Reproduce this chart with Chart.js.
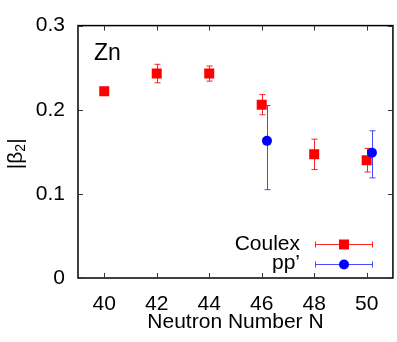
<!DOCTYPE html>
<html>
<head>
<meta charset="utf-8">
<script src="https://cdn.jsdelivr.net/npm/chart.js@4/dist/chart.umd.min.js"></script>
<style>
  html, body { margin: 0; padding: 0; background: #fff; overflow: hidden; }
  #wrap { width: 397px; height: 342px; overflow: hidden; }
</style>
</head>
<body>
<div id="wrap"><canvas id="beta2" width="400" height="342"></canvas></div>
<script>
// Data
var xTicks = [40, 42, 44, 46, 48, 50];
var yTicks = [0, 0.1, 0.2, 0.3];

var coulexN = [40, 42, 44, 46, 48, 50];
var coulexBeta = [0.222, 0.243, 0.243, 0.206, 0.147, 0.140];
var coulexErr = [0.004, 0.011, 0.009, 0.012, 0.018, 0.014];

var ppN = [46.2, 50.2];
var ppBeta = [0.163, 0.149];
var ppErrUp = [0.042, 0.026];
var ppErrDown = [0.058, 0.030];

var RED = '#ff0000';
var BLUE = '#0000ff';
var FONT = "'Liberation Sans', Arial, sans-serif";

// error bars, frame, inner ticks, labels, legend
var decorations = {
	id: 'decorations',
	beforeDatasetsDraw: function (chart) {
		var ctx = chart.ctx;
		var xs = chart.scales.x;
		var ys = chart.scales.y;
		var bar = function (n, lo, hi, color) {
			var x = Math.round(xs.getPixelForValue(n)) + 0.5;
			var y1 = ys.getPixelForValue(hi);
			var y2 = ys.getPixelForValue(lo);
			ctx.strokeStyle = color;
			ctx.lineWidth = 1;
			ctx.beginPath();
			ctx.moveTo(x, y1); ctx.lineTo(x, y2);
			ctx.moveTo(x - 3, y1); ctx.lineTo(x + 3, y1);
			ctx.moveTo(x - 3, y2); ctx.lineTo(x + 3, y2);
			ctx.stroke();
		};
		ctx.save();
		coulexN.forEach(function (n, i) {
			bar(n, coulexBeta[i] - coulexErr[i], coulexBeta[i] + coulexErr[i], '#ff2020');
		});
		ppN.forEach(function (n, i) {
			bar(n, ppBeta[i] - ppErrDown[i], ppBeta[i] + ppErrUp[i], '#4848ff');
		});
		ctx.restore();
	},
	afterDraw: function (chart) {
		var ctx = chart.ctx;
		var a = chart.chartArea;
		var xs = chart.scales.x;
		var ys = chart.scales.y;
		ctx.save();

		// frame
		ctx.strokeStyle = '#000';
		ctx.lineWidth = 1.5;
		ctx.strokeRect(a.left, a.top, a.right - a.left, a.bottom - a.top);

		// inward ticks
		ctx.lineWidth = 1;
		ctx.strokeStyle = '#333';
		ctx.beginPath();
		xTicks.forEach(function (v) {
			var x = Math.round(xs.getPixelForValue(v)) + 0.5;
			ctx.moveTo(x, a.bottom); ctx.lineTo(x, a.bottom - 5);
			ctx.moveTo(x, a.top); ctx.lineTo(x, a.top + 5);
		});
		yTicks.forEach(function (v) {
			var y = Math.round(ys.getPixelForValue(v)) + 0.5;
			ctx.moveTo(a.left, y); ctx.lineTo(a.left + 5, y);
			ctx.moveTo(a.right, y); ctx.lineTo(a.right - 5, y);
		});
		ctx.stroke();

		// element label
		ctx.fillStyle = '#000';
		ctx.textBaseline = 'middle';
		ctx.textAlign = 'left';
		ctx.font = '23px ' + FONT;
		ctx.fillText('Zn', a.left + 16, a.top + 28);

		// y title |beta_2|
		ctx.save();
		ctx.translate(16, (a.top + a.bottom) / 2 + 2);
		ctx.rotate(-Math.PI / 2);
		ctx.font = '21px ' + FONT;
		var w1 = ctx.measureText('|\u03b2').width;
		var w3 = ctx.measureText('|').width;
		ctx.font = '14px ' + FONT;
		var w2 = ctx.measureText('2').width;
		var x0 = -(w1 + w2 + w3) / 2;
		ctx.font = '21px ' + FONT;
		ctx.fillText('|\u03b2', x0, 0);
		ctx.font = '14px ' + FONT;
		ctx.fillText('2', x0 + w1, 5);
		ctx.font = '21px ' + FONT;
		ctx.fillText('|', x0 + w1 + w2, 0);
		ctx.restore();

		// legend
		var entries = [
			{ label: 'Coulex', color: '#ff2020', fill: RED, style: 'rect', y: 244 },
			{ label: 'pp\u2019', color: '#4848ff', fill: BLUE, style: 'circle', y: 263.5 },
		];
		ctx.font = '21px ' + FONT;
		ctx.textAlign = 'right';
		entries.forEach(function (e) {
			ctx.fillStyle = '#000';
			ctx.fillText(e.label, 300, e.y);
			var y = Math.round(e.y) + 0.5;
			ctx.strokeStyle = e.color;
			ctx.lineWidth = 1;
			ctx.beginPath();
			ctx.moveTo(315.5, y); ctx.lineTo(372.5, y);
			ctx.moveTo(315.5, y - 3); ctx.lineTo(315.5, y + 3);
			ctx.moveTo(372.5, y - 3); ctx.lineTo(372.5, y + 3);
			ctx.stroke();
			ctx.fillStyle = e.fill;
			ctx.beginPath();
			if (e.style === 'rect') {
				ctx.rect(344 - 5, y - 5, 10, 10);
			} else {
				ctx.arc(344, y, 5, 0, Math.PI * 2);
			}
			ctx.fill();
		});

		ctx.restore();
	},
};

new Chart(document.getElementById('beta2').getContext('2d'), {
	type: 'scatter',
	data: {
		datasets: [{
			label: 'Coulex',
			data: coulexN.map(function (n, i) { return { x: n, y: coulexBeta[i] }; }),
			pointStyle: 'rect',
			pointRadius: 7.07,
			backgroundColor: RED,
			borderWidth: 0,
			order: 1,
		}, {
			label: 'pp\u2019',
			data: ppN.map(function (n, i) { return { x: n, y: ppBeta[i] }; }),
			pointStyle: 'circle',
			pointRadius: 5,
			backgroundColor: BLUE,
			borderWidth: 0,
			order: 0,
		}],
	},
	options: {
		responsive: false,
		animation: false,
		devicePixelRatio: 1,
		layout: { padding: { top: 18, right: 2, left: 0, bottom: 0 } },
		plugins: {
			legend: { display: false },
			tooltip: { enabled: false },
		},
		scales: {
			x: {
				type: 'linear',
				min: 39,
				max: 51,
				afterBuildTicks: function (s) { s.ticks = xTicks.map(function (v) { return { value: v }; }); },
				afterFit: function (s) { s.height = 64; },
				grid: { display: false, drawTicks: false },
				border: { display: false },
				ticks: { color: '#000', font: { family: FONT, size: 21 }, padding: 14 },
				title: {
					display: true,
					text: 'Neutron Number N',
					color: '#000',
					font: { family: FONT, size: 21 },
					padding: { top: 0, bottom: 7 },
				},
			},
			y: {
				min: 0,
				max: 0.3,
				afterBuildTicks: function (s) { s.ticks = yTicks.map(function (v) { return { value: v }; }); },
				afterFit: function (s) { s.width = 78; },
				grid: { display: false, drawTicks: false },
				border: { display: false },
				ticks: {
					color: '#000',
					font: { family: FONT, size: 21 },
					padding: 13,
					callback: function (v) { return v === 0 ? '0' : v.toFixed(1); },
				},
			},
		},
	},
	plugins: [decorations],
});
</script>
</body>
</html>
